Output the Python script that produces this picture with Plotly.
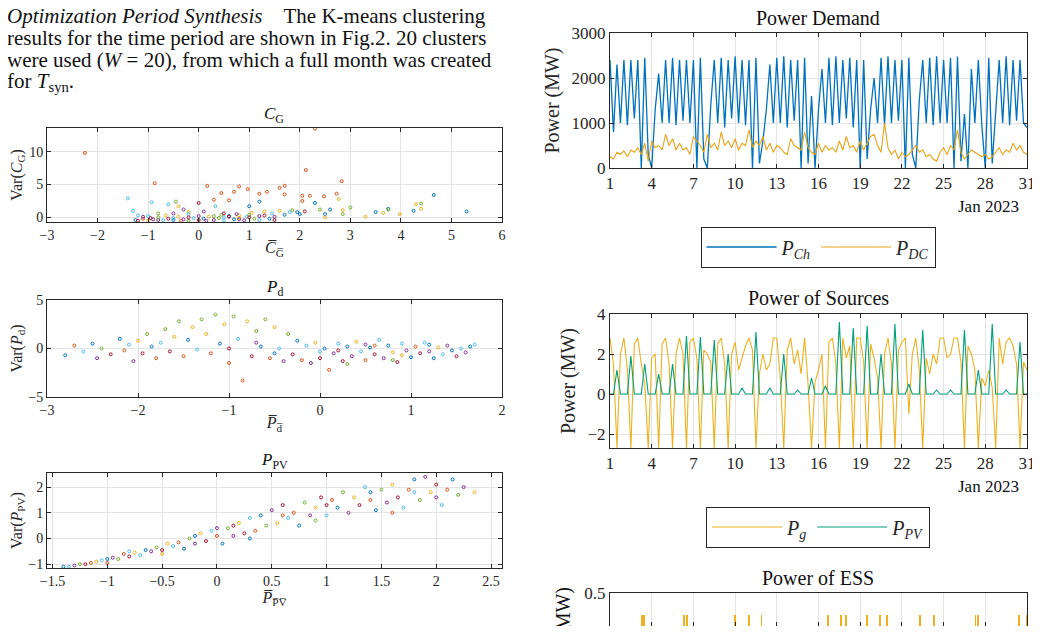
import plotly.graph_objects as go

COL = ["#0072BD", "#D95319", "#EDB120", "#7E2F8E", "#77AC30", "#4DBEEE", "#A2142F"]

cg_points = [(-2.25,9.8,1),(-0.87,5.2,1),(0.17,4.8,1),(0.8,4.7,1),(0.97,4.3,1),(1.6,4.5,1),(1.7,4.8,1),(2.12,7.2,1),(2.3,13.5,1),(2.83,5.5,1),(0.45,3.7,1),(0.7,3.9,1),(1.2,3.6,1),(1.35,3.9,1),(1.7,3.5,1),(2.05,3.3,1),(2.2,3.3,1),(2.48,3.2,1),(2.73,3.6,1),(2.77,2.8,2),(2.05,2.5,1),(0.3,2.7,1),(0.6,2.6,1),
(-1.4,2.9,5),(-1.3,1.0,5),(-0.93,2.3,5),(-0.6,2.0,5),(0.33,1.7,5),(-0.2,0.5,5),(-1.0,0.2,5),(-0.5,-0.1,5),(0.5,0.0,5),
(4.65,3.4,0),(5.3,0.9,0),(4.25,1.0,0),(3.5,0.8,0),(3.75,1.3,0),(2.3,2.2,0),(2.6,1.2,0),(1.2,2.4,0),(1.0,1.7,0),(1.95,0.8,0),(2.0,0.5,0),(2.5,0.5,0),(1.4,-0.2,0),(0.6,0.2,0),
(4.3,2.0,2),(4.4,1.3,2),(3.3,0.1,2),(3.65,0.7,2),(3.98,0.5,2),(2.5,0.0,2),(1.6,1.0,2),(1.3,0.9,2),(0.8,0.3,2),(-0.2,0.8,2),(-0.4,1.7,2),(2.85,1.1,2),
(4.4,2.1,4),(3.0,1.5,4),(3.75,1.2,4),(1.0,0.4,4),(0.3,0.2,4),(-0.45,2.4,4),(-0.8,0.6,4),(1.85,1.1,4),(2.85,0.5,4),
(-0.3,1.2,3),(-0.5,0.6,3),(0.1,0.9,3),(-1.1,0.1,3),(0.8,-0.3,3),(1.2,0.2,3),(0.0,0.2,3),(-0.8,-0.4,3),
(0.0,2.2,6),(0.5,0.6,6),(-0.2,0.0,6),(1.0,0.0,6),(1.5,-0.4,6),(-1.2,-0.5,6),
(-1.25,-0.4,0),(-1.1,-0.2,1),(-1.0,-0.5,2),(-0.9,-0.3,3),(-0.8,0.0,4),(-0.7,-0.45,5),(-0.6,-0.2,6),(-0.5,-0.4,0),(-0.4,0.1,2),(-0.3,-0.3,3),(-0.2,-0.5,4),(-0.1,-0.1,5),(0.0,-0.4,6),(0.1,-0.2,0),(0.2,0.1,2),(0.3,-0.4,3),(0.4,-0.1,4),(0.5,-0.45,5),(0.6,0.1,6),(0.7,-0.3,0),(0.8,-0.1,2),(0.9,-0.45,3),(1.1,-0.2,4),(1.2,-0.4,5),(1.3,0.3,6),(1.5,0.1,3),(1.7,0.4,0),(1.8,0.8,5),(2.1,0.9,6),(2.4,1.2,4),(-1.2,0.3,5),(-0.95,-0.1,6),(-0.65,0.3,2),(-0.35,-0.5,1),(0.15,-0.5,3),(0.45,0.4,4),(0.75,0.5,3),(1.05,0.7,2),(1.45,0.6,5),(0.95,0.1,5)]

pd_points = [(-2.8,-0.7,0),(-2.7,0.3,1),(-2.6,-0.3,5),(-2.5,0.5,0),(-2.45,-1.0,3),(-2.4,0.0,4),(-2.3,-0.6,6),(-2.2,1.0,0),(-2.15,-0.2,1),(-2.1,0.4,5),(-2.05,-1.3,3),(-2.0,0.8,2),(-1.95,-0.5,6),(-1.9,1.5,4),(-1.85,0.2,0),(-1.8,-1.0,1),(-1.75,0.6,5),(-1.7,2.0,4),(-1.65,-0.3,6),(-1.6,1.2,2),(-1.55,2.8,4),(-1.5,-0.8,1),(-1.45,0.9,0),(-1.4,2.2,2),(-1.35,-0.1,5),(-1.3,3.0,4),(-1.25,1.5,2),(-1.2,-0.5,1),(-1.15,3.5,4),(-1.1,0.5,0),(-1.05,2.5,2),(-1.0,-1.5,1),(-0.95,3.3,4),(-0.9,1.0,5),(-0.85,-3.3,1),(-0.8,2.8,2),(-0.75,-0.8,6),(-0.7,1.8,4),(-0.65,0.2,0),(-0.6,3.0,4),(-0.55,-1.0,1),(-0.5,2.2,2),(-0.45,0.0,5),(-0.4,-1.3,3),(-0.35,1.5,4),(-0.3,-0.6,6),(-0.25,0.8,0),(-0.2,-1.2,1),(-0.15,0.3,5),(-0.1,-1.5,3),(-0.05,0.6,2),(0.0,-1.0,6),(0.05,0.0,0),(0.1,-2.2,1),(0.15,-0.5,3),(0.2,0.5,5),(0.25,-1.3,6),(0.3,0.2,0),(0.35,-0.8,3),(0.4,0.7,2),(0.45,-0.3,5),(0.5,-1.2,1),(0.55,0.1,0),(0.6,-0.6,6),(0.65,0.9,5),(0.7,-1.0,3),(0.75,0.3,0),(0.8,-0.4,2),(0.85,-1.4,6),(0.9,0.5,5),(0.95,-0.2,3),(1.0,-0.9,0),(1.05,0.2,1),(1.1,-0.5,6),(1.15,0.6,5),(1.2,-0.3,3),(1.25,-1.0,0),(1.3,0.1,2),(1.35,-0.6,5),(1.4,0.3,3),(1.45,-0.2,0),(1.5,-0.8,6),(1.55,0.0,5),(1.6,-0.4,3),(1.65,0.2,0),(1.7,0.4,5),(-1.0,0.0,6),(-0.5,-0.5,0),(0.0,-0.3,5),(0.5,0.4,3),(0.3,-1.6,4),(0.8,-1.2,4),(0.6,0.3,1),(1.2,0.4,0),(0.9,-0.7,2),(0.2,-0.2,6),(-0.7,0.6,3)]

pv_points = [(-1.4,-1.1,0),(-1.35,-1.1,5),(-1.3,-1.05,3),(-1.25,-1.0,4),(-1.2,-1.0,6),(-1.15,-0.95,1),(-1.1,-0.9,2),(-1.05,-0.85,5),(-1.0,-0.8,0),(-0.95,-0.75,3),(-0.9,-0.8,4),(-0.85,-0.6,1),(-0.8,-0.7,6),(-0.75,-0.55,2),(-0.7,-0.65,5),(-0.65,-0.45,0),(-0.6,-0.5,3),(-0.55,-0.35,4),(-0.5,-0.45,6),(-0.45,-0.2,2),(-0.4,-0.3,5),(-0.35,-0.15,1),(-0.3,-0.4,0),(-0.25,0.0,4),(-0.2,-0.2,3),(-0.15,0.2,2),(-0.1,-0.1,6),(-0.05,0.3,5),(0.0,0.1,1),(0.05,-0.2,0),(0.1,0.4,4),(0.15,0.1,3),(0.2,0.6,2),(0.25,0.2,6),(0.3,0.8,5),(0.35,0.3,1),(0.4,0.9,0),(0.45,0.5,4),(0.5,1.1,3),(0.55,0.6,2),(0.6,1.3,6),(0.65,0.8,5),(0.7,1.0,1),(0.75,0.5,0),(0.8,1.4,4),(0.85,0.9,3),(0.9,1.2,2),(0.95,1.6,6),(1.0,0.9,5),(1.05,1.5,1),(1.1,1.2,0),(1.15,1.8,4),(1.2,1.0,3),(1.25,1.6,2),(1.3,1.3,6),(1.35,2.0,5),(1.4,1.5,1),(1.45,1.1,0),(1.5,1.9,4),(1.55,1.4,3),(1.6,2.1,2),(1.65,1.6,6),(1.7,1.2,5),(1.75,1.9,1),(1.8,2.3,0),(1.85,1.5,4),(1.9,2.4,3),(1.95,1.8,2),(2.0,2.1,6),(2.05,1.3,5),(2.1,1.9,1),(2.15,2.3,0),(2.2,1.7,4),(2.25,2.0,3),(2.35,1.8,2),(-1.0,-0.95,1),(-0.5,-0.6,2),(0.0,0.4,3),(0.3,0.0,0),(0.6,0.9,1),(1.0,1.3,6),(1.4,1.8,0),(1.8,1.8,5),(-0.8,-0.5,5),(-0.2,0.1,0),(0.15,0.5,6),(0.9,0.7,4),(1.6,1.0,1),(2.0,1.6,3)]

# time axis: day of January 2023, 6-hour steps
days = [1 + i * 0.25 for i in range(121)]
p_ch = [2400,800,2300,1000, 2400,950,2400,1100, 2400,0,2450,300, 0,1300,2100,1000,
        2400,1000,2450,950, 2400,1050,2400,1000, 2400,0,2450,200, 0,1400,2400,1000,
        2450,900,2400,1100, 2480,1000,2400,950, 2400,0,2450,100, 600,1300,2300,1000,
        2450,1000,2480,900, 2400,1050,2400,0, 2450,100,1600,0, 1300,2200,1000,2450,
        950,2480,1000,2400, 1100,2450,900,2400, 0,2400,200,1300, 2000,1000,2450,950,
        2480,1000,2400,1050, 2400,0,2450,300, 0,1500,2400,1000, 2450,950,2480,1000,
        2400,1000,2450,0, 2480,150,1200,0, 2200,1000,2400,950, 0,2450,100,1300,
        2400,1000,2480,950, 2400,1050,2400,1000, 900]
p_dc = [250,200,350,300, 380,250,400,350, 450,300,550,150, 600,450,500,400, 750,500,650,400,
        550,400,450,300, 700,600,500,350, 750,450,550,400, 800,500,600,450, 650,400,550,500,
        850,450,600,500, 700,400,550,350, 500,450,350,300, 650,500,450,400, 800,450,350,300,
        550,350,500,400, 450,350,600,400, 700,450,500,350, 600,400,550,700, 750,500,350,1000,
        450,300,400,200, 350,250,300,400, 500,350,400,250, 300,200,150,350, 450,300,500,400,
        850,350,200,300, 400,350,300,250, 300,200,250,350, 450,300,400,350, 550,400,500,350, 300]
p_g = [2.8,1.5,-2.7,2.0, 2.8,1.2,-2.7,2.5, 2.8,1.5,0.5,-2.7, 1.8,2.0,-2.7,2.5, 2.8,1.5,-2.7,2.0,
       2.8,2.0,-2.7,2.6, 2.8,1.8,-2.7,2.2, 2.0,1.6,-2.7,2.5, 2.8,1.5,-2.7,2.0, 2.6,1.2,1.8,2.4,
       2.8,2.2,-2.7,1.0, 2.0,1.2,1.5,2.8, 2.8,0.8,-2.7,2.2, 2.8,1.5,2.2,1.0, 2.8,0.5,-2.7,0.6,
       1.2,2.0,-2.7,2.6, 2.8,1.5,-2.7,2.8, 1.8,2.4,-2.7,2.8, 2.8,1.6,-2.7,2.5, 1.8,0.8,-2.7,2.0,
       2.8,1.5,-2.7,2.2, 2.6,2.8,-1.0,2.0, 2.8,1.2,-2.7,1.8, 1.0,2.0,1.5,2.8, 2.8,1.8,2.0,2.8,
       2.8,1.6,-2.7,2.4, 2.0,1.2,-2.7,0.8, 0.4,1.2,0.3,-2.7, 2.8,1.5,2.6,2.8, 2.4,1.5,-2.7,1.6, 1.2]
p_pv = [0,0,1.2,0, 0,0,1.9,0, 0,0,1.5,0, 0,0,1.0,0, 0,0,1.5,0, 0,0,2.9,0, 0,0,2.85,0, 0,0,2.7,0,
        0,0,2.0,0, 0,0,0.3,0, 0,0,3.1,0, 0,0,0.3,0, 0,0,2.0,0, 0,0,0.2,0, 0,0,0.8,0, 0,0,0.4,0,
        0,0,3.6,0, 0,0,3.3,0, 0,0,3.4,0, 0,0,2.0,0, 0,0,3.5,0, 0,0,0.5,0, 0,0,3.2,0, 0,0,0.2,0,
        0,0,0.2,0, 0,0,3.2,0, 0,0,1.2,0, 0,0,3.5,0, 0,0,0.2,0, 0,0,2.6,0, 0]
ess_days = [3.3, 3.45, 6.3, 6.55, 10.0, 11.0, 11.9, 16.7, 17.6, 18.0, 19.5, 20.45, 20.9, 23.3, 24.3, 27.3, 27.5, 30.4, 31.0]
ess_vals = [0.42]*19
day_ticks = [1, 4, 7, 10, 13, 16, 19, 22, 25, 28, 31]

FONT = "Liberation Serif"
W, H, OFF = 1032, 618, 8   # page body adds 8px margin
fx = lambda p: (p - OFF) / W
fy = lambda p: 1 - (p - OFF) / H

fig = go.Figure()

def scat(pts, ax):
    for k in range(7):
        sub = [p for p in pts if p[2] == k]
        fig.add_trace(go.Scatter(x=[p[0] for p in sub], y=[p[1] for p in sub], mode="markers",
            xaxis="x"+ax, yaxis="y"+ax, showlegend=False,
            marker=dict(size=3, color="rgba(0,0,0,0)", line=dict(color=COL[k], width=1))))

scat(cg_points, "")
scat(pd_points, "2")
scat(pv_points, "3")
fig.add_trace(go.Scatter(x=days, y=p_ch, mode="lines", line=dict(color="#0072BD", width=1.3), name="<i>P</i><sub><i>Ch</i></sub>", xaxis="x4", yaxis="y4", legend="legend"))
fig.add_trace(go.Scatter(x=days, y=p_dc, mode="lines", line=dict(color="#E8A317", width=1.1), name="<i>P</i><sub><i>DC</i></sub>", xaxis="x4", yaxis="y4", legend="legend"))
fig.add_trace(go.Scatter(x=days, y=p_g, mode="lines", line=dict(color="#EDB120", width=1.1), name="<i>P</i><sub><i>g</i></sub>", xaxis="x5", yaxis="y5", legend="legend2"))
fig.add_trace(go.Scatter(x=days, y=p_pv, mode="lines", line=dict(color="#00A07A", width=1.1), name="<i>P</i><sub><i>PV</i></sub>", xaxis="x5", yaxis="y5", legend="legend2"))
fig.add_trace(go.Bar(x=ess_days, y=ess_vals, width=0.06, marker=dict(color="#EDB120", line=dict(width=0)), showlegend=False, xaxis="x6", yaxis="y6"))

def ax(domain, rng, **kw):
    d = dict(domain=domain, range=rng, showline=True, mirror="ticks", linecolor="#262626", linewidth=1,
             ticks="inside", ticklen=4, tickcolor="#262626", showgrid=True, gridcolor="#e4e4e4",
             zeroline=False, tickfont=dict(family=FONT, size=14, color="#262626"))
    d.update(kw)
    return d

L = [fx(47), fx(502)]
R = [fx(610), fx(1027)]
yd = lambda a, b: [max(0, fy(b)), fy(a)]
BIG = dict(family=FONT, size=17, color="#262626")
DR = [0.999, 31.001]
fig.update_layout(
    width=W, height=H, margin=dict(l=0, r=0, t=0, b=0, autoexpand=False), paper_bgcolor="white", plot_bgcolor="white",
    font=dict(family=FONT, color="#262626"),
    xaxis=ax(L, [-3, 6], dtick=1, anchor="y", title=dict(text="<i>C̅</i><sub>G̅</sub>", font=dict(size=16), standoff=0)),
    yaxis=ax(yd(128, 222), [-0.7, 13.6], tickvals=[0, 5, 10], anchor="x", title=dict(text="Var(<i>C</i><sub>G</sub>)", font=dict(size=16), standoff=4)),
    xaxis2=ax(L, [-3, 2], dtick=1, anchor="y2", title=dict(text="<i>P̅</i><sub>d̅</sub>", font=dict(size=16), standoff=0)),
    yaxis2=ax(yd(300, 397), [-5, 5], tickvals=[-5, 0, 5], anchor="x2", title=dict(text="Var(<i>P</i><sub>d</sub>)", font=dict(size=16), standoff=4)),
    xaxis3=ax(L, [-1.55, 2.6], tickvals=[-1.5, -1, -0.5, 0, 0.5, 1, 1.5, 2, 2.5], anchor="y3", title=dict(text="<i>P̅</i><sub>P̅V̅</sub>", font=dict(size=16), standoff=0)),
    yaxis3=ax(yd(473, 568), [-1.15, 2.55], tickvals=[-1, 0, 1, 2], anchor="x3", title=dict(text="Var(<i>P</i><sub>PV</sub>)", font=dict(size=16), standoff=4)),
    xaxis4=ax(R, DR, tickvals=day_ticks, anchor="y4", tickfont=BIG),
    yaxis4=ax(yd(33, 168), [0, 3000], dtick=1000, anchor="x4", tickfont=BIG, title=dict(text="Power (MW)", font=dict(size=20), standoff=6)),
    xaxis5=ax(R, DR, tickvals=day_ticks, anchor="y5", tickfont=BIG),
    yaxis5=ax(yd(314, 448), [-2.7, 4], tickvals=[-2, 0, 2, 4], anchor="x5", tickfont=BIG, title=dict(text="Power (MW)", font=dict(size=20), standoff=6)),
    xaxis6=ax(R, DR, tickvals=day_ticks, anchor="y6", showticklabels=False, mirror=True),
    yaxis6=ax(yd(593, 634), [0.38, 0.5], tickvals=[0.5], anchor="x6", tickfont=BIG),
    legend=dict(orientation="h", x=fx(818), y=fy(247), xanchor="center", yanchor="middle", bordercolor="#262626", borderwidth=1,
                font=dict(family=FONT, size=20), itemwidth=70),
    legend2=dict(orientation="h", x=fx(818), y=fy(527), xanchor="center", yanchor="middle", bordercolor="#262626", borderwidth=1,
                 font=dict(family=FONT, size=20), itemwidth=70),
    showlegend=True, bargap=0,
)

ann = []
def A(text, x, y, size=17, xa="left", ya="middle", **kw):
    ann.append(dict(text=text, x=fx(x), y=fy(y), xref="paper", yref="paper", showarrow=False,
                    xanchor=xa, yanchor=ya, font=dict(family=FONT, size=size, color="#111"), **kw))
A("<i>Optimization Period Synthesis</i>&nbsp;&nbsp;&nbsp;&nbsp;The K-means clustering", 5, 16, 21)
A("results for the time period are shown in Fig.2. 20 clusters", 5, 38, 21)
A("were used (<i>W</i> = 20), from which a full month was created", 5, 60, 21)
A("for <i>T</i><sub>syn</sub>.", 5, 82, 21)
A("<i>C</i><sub>G</sub>", 274, 115, 17, "center")
A("<i>P</i><sub>d</sub>", 274, 288, 17, "center")
A("<i>P</i><sub>PV</sub>", 274, 461, 17, "center")
A("Power Demand", 818, 18, 20, "center")
A("Power of Sources", 818, 298, 20, "center")
A("Power of ESS", 818, 578, 20, "center")
A("Jan 2023", 1021, 206, 17, "right")
A("Jan 2023", 1021, 486, 17, "right")
A("(MW)", 563, 612, 20, "center", textangle=-90)
fig.update_layout(annotations=ann)
fig.write_html("out.html")
